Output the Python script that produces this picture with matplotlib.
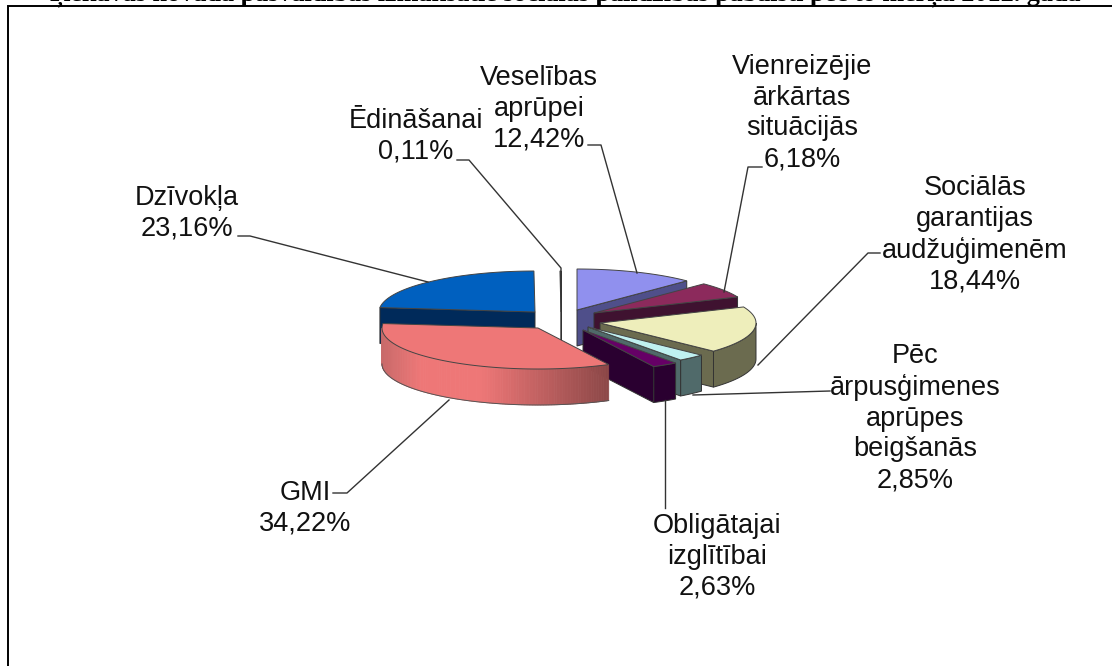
# ============================================================
# PIE 3D EXPLODIDO - PABALSTI
# ============================================================

import numpy as np

import matplotlib
matplotlib.use("Agg")

import matplotlib.pyplot as plt

from matplotlib.colors import to_rgb

# ============================================================
# 1. DADOS
# ============================================================

names = [
    "Veselības\naprūpei",
    "Vienreizējie\nārkārtas\nsituācijās",
    "Sociālās\ngarantijas\naudžuģimenēm",
    "Pēc\nārpusģimenes\naprūpes\nbeigšanās",
    "Obligātajai\nizglītībai",
    "GMI",
    "Dzīvokļa",
    "Ēdināšanai",
]

values = [12.42, 6.18, 18.44, 2.85, 2.63, 34.22, 23.16, 0.11]

title_text = (
    "Ķekavas novada pašvaldības izmaksātie sociālās palīdzības "
    "pabalsti pēc to mērķa 2012. gadā"
)

# ============================================================
# 2. ESTILO
# ============================================================

plt.rcParams["font.family"] = ["Liberation Sans", "DejaVu Sans"]

top_colors = ["#9090ee", "#8c2a5c", "#eeeebb", "#bff0f0", "#660066", "#ee7777", "#0060bf", "#ffffff"]
side_colors = ["#4f4f8a", "#3f1230", "#6b6b4f", "#506a6a", "#2a0030", "#8b4747", "#002a5a", "#ffffff"]

# vertice de cada fatia (explosao), em pixels
apex_x = [577, 594, 600, 588, 583, 538, 535, 561]
apex_y = [310, 313, 323, 327, 330, 328, 312, 312]

# ordem de desenho: de tras para frente
draw_order = [6, 7, 0, 1, 2, 3, 4, 5]

RX = 156
RY = 41
DEPTH = 36

# posicao dos rotulos (centro x, centro y)
label_x = [539, 802, 975, 915, 717, 305, 187, 416]
label_y = [109, 113, 235, 418, 557, 508, 213, 136]

# linhas de chamada
leaders = [
    ([588, 601, 637], [145, 145, 273]),
    ([762, 748, 724], [167, 167, 292]),
    ([880, 868, 758], [253, 253, 365]),
    ([830, 693], [391, 395]),
    ([665, 665], [400, 508]),
    ([333, 347, 449], [493, 493, 400]),
    ([238, 250, 428], [236, 236, 282]),
    ([457, 469, 561, 561], [160, 160, 268, 339]),
]

# ============================================================
# 3. FIGURA
# ============================================================

fig = plt.figure(figsize=(11.12, 6.66), dpi=100)
ax = fig.add_axes([0, 0, 1, 1])
ax.set_xlim(0, 1112)
ax.set_ylim(666, 0)
ax.axis("off")

# ============================================================
# 4. FUNCOES
# ============================================================

def rim(cx, cy, a):
    rad = np.deg2rad(a)
    return cx + RX * np.sin(rad), cy - RY * np.cos(rad)

def gmi_shade(x):
    # gradiente da lateral do GMI
    left = np.array(to_rgb("#c96a6a"))
    mid = np.array(to_rgb("#ee7777"))
    right = np.array(to_rgb(side_colors[5]))
    if x < 420:
        t = (x - 382) / 38
        return left + (mid - left) * max(t, 0)
    if x < 480:
        return mid
    t = (x - 480) / 130
    return mid + (right - mid) * min(t, 1)

def draw_slice(i, a0, a1):
    cx = apex_x[i]
    cy = apex_y[i]
    top = top_colors[i]
    side = side_colors[i]

    # lateral externa (so a parte voltada para frente)
    s0 = max(a0, 90)
    s1 = min(a1, 270)
    if s1 > s0:
        steps = np.linspace(s0, s1, int(s1 - s0) + 2)
        if i == 5:
            for k in range(len(steps) - 1):
                x0, y0 = rim(cx, cy, steps[k])
                x1, y1 = rim(cx, cy, steps[k + 1])
                c = gmi_shade((x0 + x1) / 2)
                ax.fill([x0, x1, x1, x0], [y0, y1, y1 + DEPTH, y0 + DEPTH],
                        facecolor=c, edgecolor=c, linewidth=0.6, zorder=2)
        xs, ys = rim(cx, cy, steps)
        if i != 5:
            ax.fill(np.r_[xs, xs[::-1]], np.r_[ys, ys[::-1] + DEPTH],
                    facecolor=side, edgecolor="#333333", linewidth=0.7, zorder=2)
        else:
            ax.plot(xs, ys + DEPTH, color="#555555", linewidth=0.7, zorder=2)

    # face de corte
    if i == 6:
        xe, ye = rim(cx, cy, a0)
    else:
        xe, ye = rim(cx, cy, a1)
    if i != 5:
        ax.fill([cx, xe, xe, cx], [cy, ye, ye + DEPTH, cy + DEPTH],
                facecolor=side, edgecolor="#333333", linewidth=0.7, zorder=2)

    # tampa
    angles = np.linspace(a0, a1, max(int(a1 - a0), 1) + 2)
    xs, ys = rim(cx, cy, angles)
    ax.fill(np.r_[cx, xs], np.r_[cy, ys],
            facecolor=top, edgecolor="#444444", linewidth=0.7, zorder=2)

# ============================================================
# 5. FATIAS
# ============================================================

limits = np.cumsum([0] + values) / sum(values) * 360

for i in draw_order:
    draw_slice(i, limits[i], limits[i + 1])

# ============================================================
# 6. ROTULOS E LINHAS
# ============================================================

for lx, ly in leaders:
    ax.plot(lx, ly, color="#333333", linewidth=1.0, zorder=3)

for i, name in enumerate(names):
    label = name + "\n" + f"{values[i]:.2f}%".replace(".", ",")
    ax.text(label_x[i], label_y[i], label, ha="center", va="center",
            fontsize=19.5, color="#111111", linespacing=1.24,
            multialignment="center", zorder=4)

# ============================================================
# 7. MOLDURA E TITULO CORTADO
# ============================================================

ax.plot([7.5, 7.5, 1112], [666, 6, 6], color="black", linewidth=1.4, zorder=5,
        solid_joinstyle="miter")

ax.text(50, 0, title_text, ha="left", va="baseline", fontsize=18.8,
        fontweight="bold", family=["Liberation Serif", "DejaVu Serif"], color="black")

fig.savefig("out.png", dpi=100)
